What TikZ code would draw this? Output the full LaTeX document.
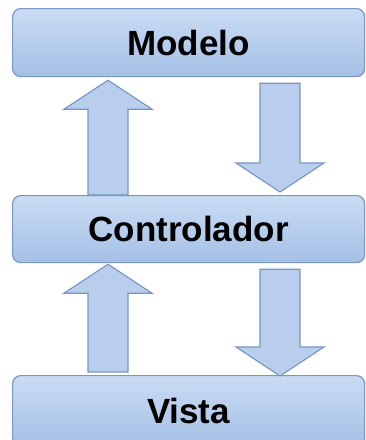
\documentclass[tikz,border=0pt]{standalone}
\usepackage{fontspec}
\setmainfont{Liberation Sans}
\usepackage{tikz}
\usetikzlibrary{calc}
\definecolor{boxtop}{RGB}{202,220,243}
\definecolor{boxbot}{RGB}{164,192,230}
\definecolor{boxline}{RGB}{122,150,194}
\definecolor{arrfill}{RGB}{184,206,236}
\definecolor{arrline}{RGB}{118,148,196}
\tikzset{
  layer/.style={rectangle, rounded corners=8pt, draw=boxline, line width=1.2pt,
                top color=boxtop, bottom color=boxbot, anchor=north west,
                minimum width=352pt, inner sep=0pt,
                font=\bfseries\fontsize{35}{40}\selectfont},
  fatarr/.style={draw=arrline, fill=arrfill, line width=1.1pt, line join=miter},
}
% block arrow from #1 to #2 (vertical)
\newcommand{\blockarrow}[2]{%
  \draw[fatarr] let \p1=(#1), \p2=(#2), \n1={sign(\y2-\y1)} in
    (\x1-20pt,\y1) -- (\x1-20pt,\y2-\n1*29pt) -- (\x1-44pt,\y2-\n1*29pt)
    -- (\x1,\y2) -- (\x1+44pt,\y2-\n1*29pt) -- (\x1+20pt,\y2-\n1*29pt)
    -- (\x1+20pt,\y1) -- cycle;}

\begin{document}
\begin{tikzpicture}
  \useasboundingbox (0,0) rectangle (366pt,-440pt);
  \clip (0,0) rectangle (366pt,-440pt);
  %% layers
  \node[layer, minimum height=68pt] (modelo) at (12pt,-8pt) {Modelo};
  \node[layer, minimum height=67pt] (ctrl) at (12pt,-195pt) {\raisebox{-6pt}{Controlador}};
  \node[layer, minimum height=70pt] (vista) at (12pt,-375pt) {\raisebox{-4pt}{Vista}};
  %% arrow columns
  \coordinate (xl) at (108pt,0);
  \coordinate (xr) at (280pt,0);
  \coordinate (a1s) at (ctrl.north -| xl);
  \coordinate (a1e) at ([yshift=-3pt]modelo.south -| xl);
  \coordinate (a2s) at ([yshift=-6pt]modelo.south -| xr);
  \coordinate (a2e) at ([yshift=3pt]ctrl.north -| xr);
  \coordinate (a3s) at ([yshift=3pt]vista.north -| xl);
  \coordinate (a3e) at ([yshift=-1pt]ctrl.south -| xl);
  \coordinate (a4s) at ([yshift=-6pt]ctrl.south -| xr);
  \coordinate (a4e) at ([yshift=-1pt]vista.north -| xr);
  \blockarrow{a1s}{a1e}
  \blockarrow{a2s}{a2e}
  \blockarrow{a3s}{a3e}
  \blockarrow{a4s}{a4e}
\end{tikzpicture}
\end{document}
